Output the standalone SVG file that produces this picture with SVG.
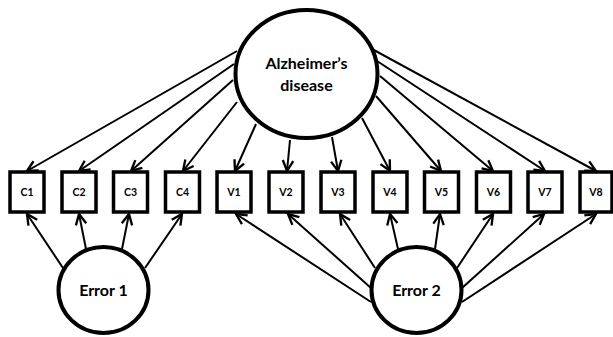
<svg xmlns="http://www.w3.org/2000/svg" width="613" height="337" viewBox="0 0 613 337">
<style>
.box{fill:#fff;stroke:#000;stroke-width:3.5}
.lat{fill:#fff;stroke:#000;stroke-width:4}
.big{font-family:Lato,"Liberation Sans",sans-serif;font-weight:bold;font-size:16px;text-anchor:middle;fill:#000}
.sm{font-family:Lato,"Liberation Sans",sans-serif;font-weight:bold;font-size:10.5px;text-anchor:middle;fill:#000}
.c line{stroke:#000;stroke-width:2;marker-end:url(#ah)}
</style>
<defs>
<marker id="ah" markerUnits="userSpaceOnUse" markerWidth="14" markerHeight="14" refX="10" refY="5" orient="auto" viewBox="0 0 12 10">
<path d="M1,0.5 L10,5 L1,9.5" fill="none" stroke="#000" stroke-width="2"/>
</marker>
</defs>
<rect width="613" height="337" fill="#fff"/>
<g class="c" id="connectors">
<line x1="237" y1="51" x2="27" y2="171"/>
<line x1="234" y1="64" x2="79" y2="171"/>
<line x1="233" y1="80" x2="131" y2="171"/>
<line x1="237" y1="102" x2="183" y2="171"/>
<line x1="256" y1="124" x2="235" y2="171"/>
<line x1="290" y1="140" x2="287" y2="171"/>
<line x1="332" y1="137" x2="338" y2="171"/>
<line x1="362" y1="118" x2="390" y2="171"/>
<line x1="376" y1="96" x2="441" y2="171"/>
<line x1="380" y1="76" x2="493" y2="171"/>
<line x1="377" y1="61" x2="545" y2="171"/>
<line x1="372" y1="49" x2="596" y2="171"/>
<line x1="63" y1="268" x2="27" y2="214"/>
<line x1="86" y1="249" x2="79" y2="214"/>
<line x1="122" y1="249" x2="129" y2="214"/>
<line x1="145" y1="268" x2="182" y2="214"/>
<line x1="371" y1="302" x2="236" y2="214"/>
<line x1="371" y1="288" x2="288" y2="214"/>
<line x1="375" y1="268" x2="340" y2="214"/>
<line x1="398" y1="249" x2="390" y2="214"/>
<line x1="435" y1="249" x2="440" y2="214"/>
<line x1="457" y1="268" x2="493" y2="214"/>
<line x1="462" y1="288" x2="544" y2="214"/>
<line x1="462" y1="302" x2="596" y2="214"/>
</g>
<g id="alzheimers">
<ellipse class="lat" cx="306.5" cy="74" rx="71" ry="64"/>
<text class="big" x="306.5" y="69">Alzheimer’s</text>
<text class="big" x="306.5" y="91">disease</text>
</g>
<g id="error1">
<ellipse class="lat" cx="103.5" cy="290" rx="45" ry="43"/>
<text class="big" x="103.5" y="296">Error 1</text>
</g>
<g id="error2">
<ellipse class="lat" cx="416.5" cy="290" rx="45" ry="43"/>
<text class="big" x="416.5" y="296">Error 2</text>
</g>
<g id="C1"><rect class="box" x="10" y="172" width="34" height="40"/><text class="sm" x="27" y="196">C1</text></g>
<g id="C2"><rect class="box" x="62" y="172" width="34" height="40"/><text class="sm" x="79" y="196">C2</text></g>
<g id="C3"><rect class="box" x="113.5" y="172" width="34" height="40"/><text class="sm" x="130.5" y="196">C3</text></g>
<g id="C4"><rect class="box" x="165.5" y="172" width="34" height="40"/><text class="sm" x="182.5" y="196">C4</text></g>
<g id="V1"><rect class="box" x="217" y="172" width="34" height="40"/><text class="sm" x="234" y="196">V1</text></g>
<g id="V2"><rect class="box" x="269" y="172" width="34" height="40"/><text class="sm" x="286" y="196">V2</text></g>
<g id="V3"><rect class="box" x="321" y="172" width="34" height="40"/><text class="sm" x="338" y="196">V3</text></g>
<g id="V4"><rect class="box" x="373" y="172" width="34" height="40"/><text class="sm" x="390" y="196">V4</text></g>
<g id="V5"><rect class="box" x="424.5" y="172" width="34" height="40"/><text class="sm" x="441.5" y="196">V5</text></g>
<g id="V6"><rect class="box" x="476.5" y="172" width="34" height="40"/><text class="sm" x="493.5" y="196">V6</text></g>
<g id="V7"><rect class="box" x="528" y="172" width="34" height="40"/><text class="sm" x="545" y="196">V7</text></g>
<g id="V8"><rect class="box" x="580" y="172" width="32" height="40"/><text class="sm" x="596" y="196">V8</text></g>
</svg>
